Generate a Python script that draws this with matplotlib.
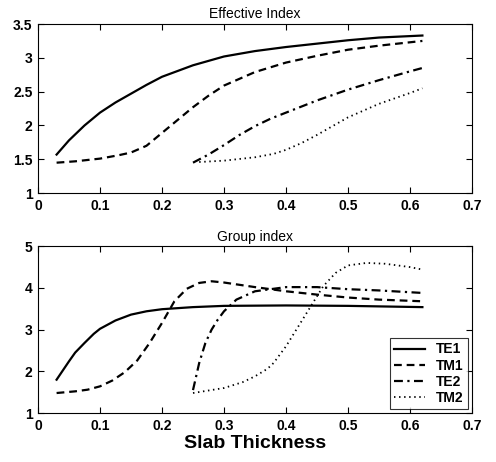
import matplotlib.pyplot as plt

plt.rcParams['font.family'] = ['Liberation Sans', 'DejaVu Sans']

# effective index
te1_x = [0.03, 0.05, 0.075, 0.1, 0.125, 0.15, 0.175, 0.2, 0.25, 0.3, 0.35, 0.4, 0.45, 0.5, 0.55, 0.62]
te1_n = [1.57, 1.78, 2.0, 2.19, 2.34, 2.47, 2.6, 2.72, 2.89, 3.02, 3.1, 3.16, 3.21, 3.26, 3.3, 3.33]
tm1_x = [0.03, 0.06, 0.1, 0.13, 0.15, 0.175, 0.2, 0.225, 0.25, 0.275, 0.3, 0.35, 0.4, 0.45, 0.5, 0.55, 0.62]
tm1_n = [1.45, 1.47, 1.51, 1.56, 1.6, 1.7, 1.89, 2.08, 2.27, 2.44, 2.59, 2.79, 2.93, 3.03, 3.12, 3.18, 3.25]
te2_x = [0.25, 0.275, 0.3, 0.325, 0.35, 0.375, 0.4, 0.45, 0.5, 0.55, 0.6, 0.62]
te2_n = [1.45, 1.57, 1.71, 1.86, 1.99, 2.1, 2.19, 2.37, 2.53, 2.67, 2.8, 2.85]
tm2_x = [0.26, 0.3, 0.35, 0.38, 0.4, 0.425, 0.45, 0.475, 0.5, 0.55, 0.6, 0.62]
tm2_n = [1.46, 1.48, 1.53, 1.58, 1.64, 1.74, 1.86, 1.99, 2.12, 2.32, 2.48, 2.55]

# group index
te1_g_x = [0.03, 0.04, 0.05, 0.06, 0.075, 0.09, 0.1, 0.125, 0.15, 0.175, 0.2, 0.25, 0.3, 0.4, 0.5, 0.62]
te1_g = [1.8, 2.02, 2.24, 2.45, 2.68, 2.9, 3.02, 3.22, 3.36, 3.44, 3.49, 3.54, 3.57, 3.58, 3.57, 3.54]
tm1_g_x = [0.03, 0.06, 0.08, 0.1, 0.12, 0.14, 0.16, 0.18, 0.2, 0.22, 0.24, 0.26, 0.28, 0.3, 0.35, 0.4, 0.45, 0.5, 0.55, 0.62]
tm1_g = [1.48, 1.52, 1.56, 1.64, 1.78, 1.98, 2.26, 2.68, 3.16, 3.68, 3.98, 4.12, 4.16, 4.13, 4.02, 3.92, 3.84, 3.77, 3.72, 3.68]
te2_g_x = [0.25, 0.26, 0.27, 0.28, 0.29, 0.3, 0.32, 0.35, 0.4, 0.45, 0.5, 0.55, 0.62]
te2_g = [1.55, 2.2, 2.68, 3.0, 3.24, 3.44, 3.72, 3.92, 4.02, 4.02, 3.97, 3.94, 3.88]
tm2_g_x = [0.25, 0.3, 0.33, 0.35, 0.37, 0.38, 0.4, 0.42, 0.44, 0.46, 0.48, 0.5, 0.53, 0.56, 0.6, 0.62]
tm2_g = [1.48, 1.6, 1.74, 1.88, 2.06, 2.2, 2.6, 3.08, 3.56, 4.04, 4.36, 4.54, 4.6, 4.58, 4.5, 4.44]

labels = ['TE1', 'TM1', 'TE2', 'TM2']
styles = [dict(ls='-', lw=1.6), dict(ls=(0, (3.5, 2.2)), lw=1.6),
          dict(ls=(0, (4, 2, 1, 2)), lw=1.6), dict(ls=(0, (0.8, 2)), lw=1.3)]

fig = plt.figure(figsize=(4.96, 4.62), dpi=100)
ax1 = fig.add_axes([0.0766, 0.582, 0.875, 0.366])
ax2 = fig.add_axes([0.0766, 0.106, 0.875, 0.361])

for xs, ys, st in zip([te1_x, tm1_x, te2_x, tm2_x], [te1_n, tm1_n, te2_n, tm2_n], styles):
    ax1.plot(xs, ys, color='black', **st)
for xs, ys, st, lab in zip([te1_g_x, tm1_g_x, te2_g_x, tm2_g_x], [te1_g, tm1_g, te2_g, tm2_g], styles, labels):
    ax2.plot(xs, ys, color='black', label=lab, **st)

ax1.set_xlim(0, 0.7)
ax1.set_ylim(1, 3.5)
ax1.set_yticks([1, 1.5, 2, 2.5, 3, 3.5])
ax1.set_yticklabels(['1', '1.5', '2', '2.5', '3', '3.5'])
ax2.set_xlim(0, 0.7)
ax2.set_ylim(1, 5)
ax2.set_yticks([1, 2, 3, 4, 5])

for ax in (ax1, ax2):
    ax.set_xticks([0, 0.1, 0.2, 0.3, 0.4, 0.5, 0.6, 0.7])
    ax.set_xticklabels(['0', '0.1', '0.2', '0.3', '0.4', '0.5', '0.6', '0.7'])
    ax.tick_params(direction='in', top=True, right=True, labelsize=10, length=4, pad=4)
    for lab in ax.get_xticklabels() + ax.get_yticklabels():
        lab.set_fontweight('bold')

ax1.set_title('Effective Index', fontsize=10, pad=4)
ax2.set_title('Group index', fontsize=10, pad=4)
ax2.set_xlabel('Slab Thickness', fontsize=14, fontweight='bold', labelpad=2)

leg = ax2.legend(loc='lower right', fontsize=10, fancybox=False, edgecolor='black',
                 borderaxespad=0.3, handlelength=2.2, labelspacing=0.15, borderpad=0.3)
leg.get_frame().set_linewidth(0.8)
for t in leg.get_texts():
    t.set_fontweight('bold')

fig.savefig('out.png', dpi=100)
